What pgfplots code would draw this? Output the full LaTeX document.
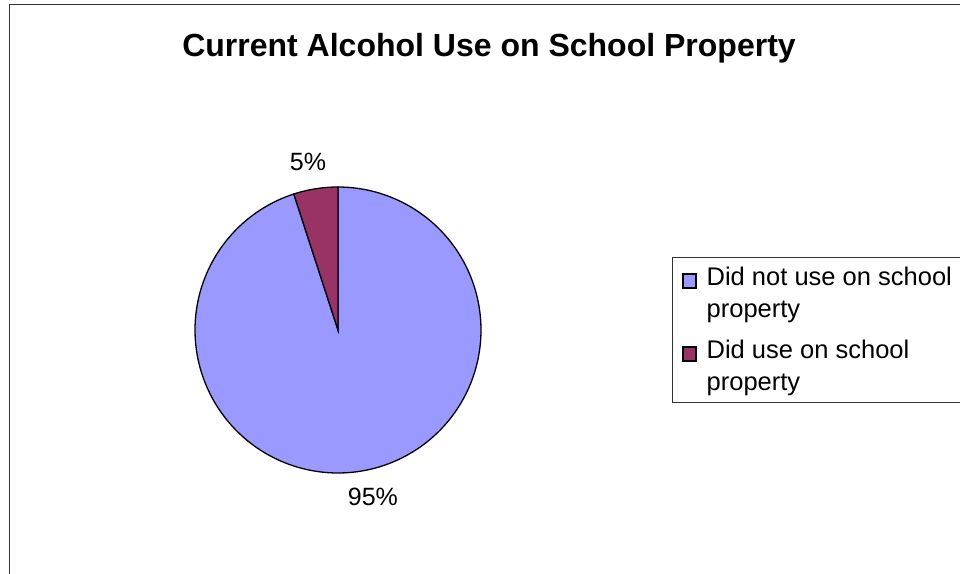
\documentclass[border=0pt]{standalone}
\usepackage{pgfplots}
\pgfplotsset{compat=1.18}
\usepackage{pgfplotstable}
\usepgfplotslibrary{polar}
\usepackage{fontspec}
\setmainfont{Liberation Sans}
\definecolor{sliceA}{HTML}{9999FF}
\definecolor{sliceB}{HTML}{993366}
\pgfplotstableread{
label value
notuse 95
use 5
}\piedata
\pgfplotstablegetelem{0}{value}\of\piedata \let\valA\pgfplotsretval
\pgfplotstablegetelem{1}{value}\of\piedata \let\valB\pgfplotsretval
\pgfmathsetmacro\angA{90-3.6*\valA}
\pgfmathsetmacro\angB{\angA-3.6*\valB}
\begin{document}
\begin{tikzpicture}[x=1pt,y=1pt]
\clip (0,0) rectangle (960,573);
\fill[white] (0,0) rectangle (960,573);
\draw[line width=1.3pt, black!80] (9.3,-20) -- (9.3,568.3) -- (980,568.3);
\node[anchor=base, inner sep=0pt, font=\fontsize{32}{38}\selectfont\bfseries] at (489,516) {Current Alcohol Use on School Property};
\begin{polaraxis}[
  hide axis, clip=false,
  width=286pt, height=286pt, scale only axis,
  ymin=0, ymax=1,
  at={(338pt,243pt)}, anchor=center,
  legend cell align=left,
  legend image code/.code={\draw[#1,line width=1.2pt] (0pt,30pt) rectangle (13pt,44pt);},
  legend style={at={(axis description cs:1.668,0.755)}, anchor=north west,
     draw=black!80, line width=0.8pt, inner xsep=10pt, inner ysep=10pt,
     font=\fontsize{25.5}{32}\selectfont,
     nodes={inner sep=0pt, align=left, anchor=base west}, column sep=10pt, row sep=21pt},
]
\addplot[fill=sliceA, draw=black, line width=1.3pt, domain=\angA:90, samples=240] {1} -- (axis cs:0,0) -- cycle;
\addlegendentry{Did not use on school\\property}
\addplot[fill=sliceB, draw=black, line width=1.3pt, domain=\angB:\angA, samples=20] {1} -- (axis cs:0,0) -- cycle;
\addlegendentry{Did use on school\\property}
\node[font=\fontsize{25}{30}\selectfont] at (axis cs:100.1,1.196) {5\%};
\node[font=\fontsize{25}{30}\selectfont] at (axis cs:-78.2,1.193) {95\%};
\end{polaraxis}
\end{tikzpicture}
\end{document}
